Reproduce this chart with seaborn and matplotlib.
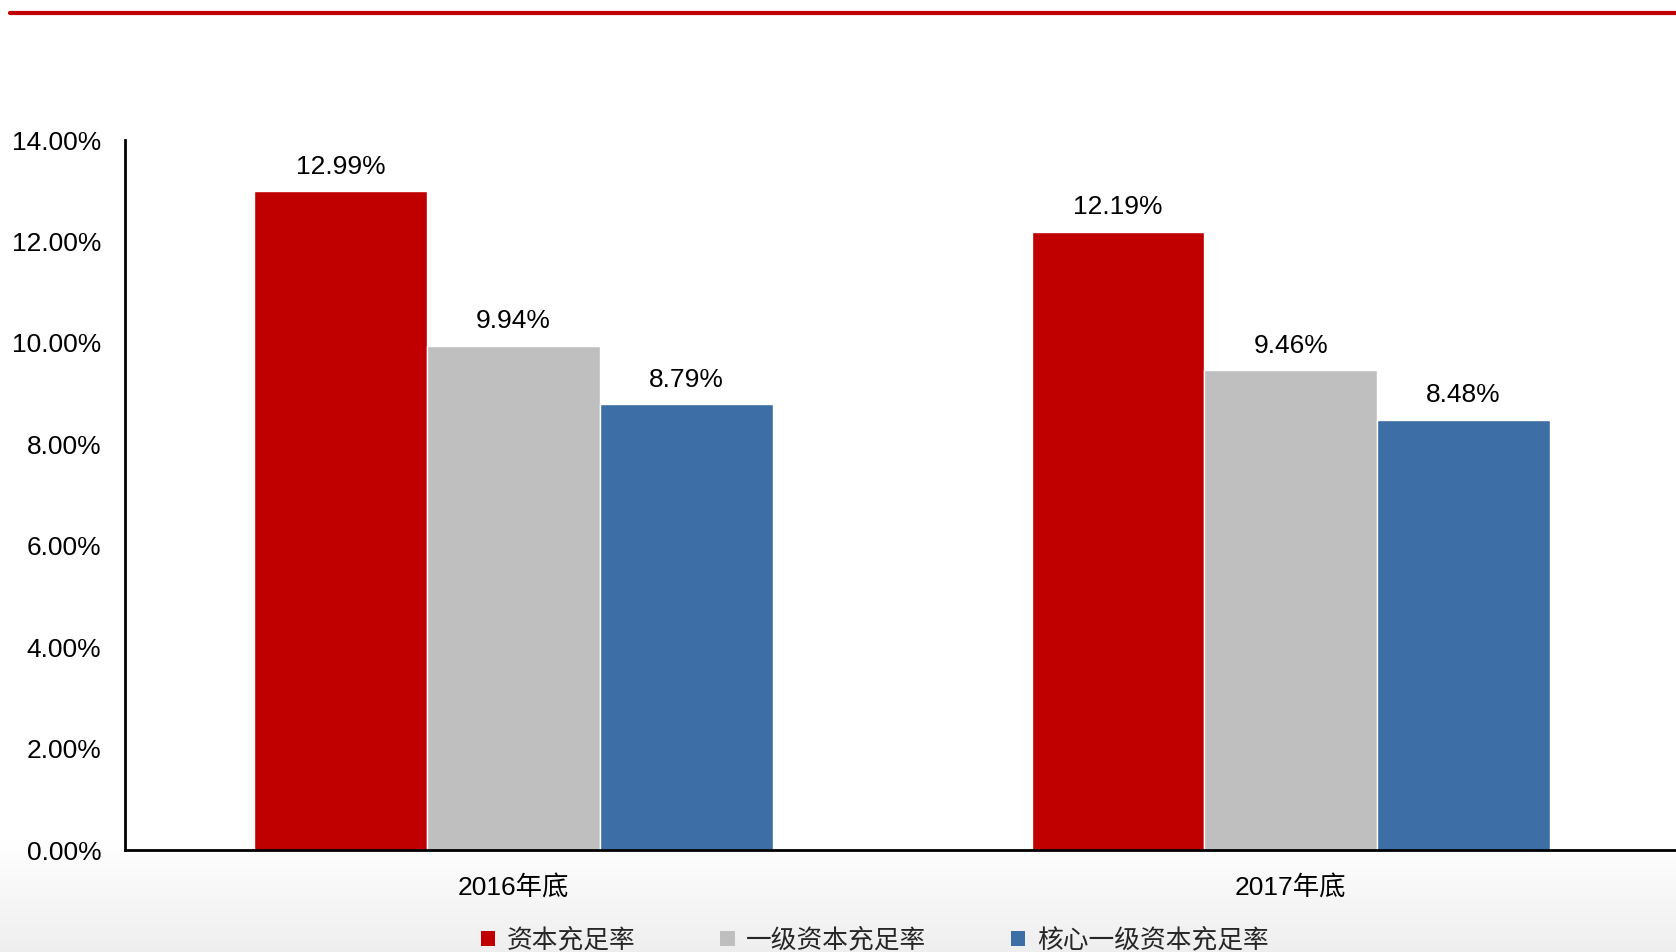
import numpy as np
import pandas as pd
import matplotlib
matplotlib.use("Agg")
import matplotlib.pyplot as plt
import seaborn as sns
from matplotlib.ticker import FuncFormatter, MultipleLocator
from matplotlib.patches import Patch

categories = ["2016年底", "2017年底"]
series_names = ["资本充足率", "一级资本充足率", "核心一级资本充足率"]
capital_ratio = [12.99, 12.19]
tier1_ratio = [9.94, 9.46]
core_tier1_ratio = [8.79, 8.48]
colors = ["#C00000", "#BFBFBF", "#3D6EA5"]

rows = []
for name, vals in zip(series_names, [capital_ratio, tier1_ratio, core_tier1_ratio]):
    for c, v in zip(categories, vals):
        rows.append({"期间": c, "指标": name, "值": v / 100})
df = pd.DataFrame(rows)

sns.set_theme(style="white")
plt.rcParams["font.family"] = ["Liberation Sans", "Noto Sans CJK SC", "DejaVu Sans"]

fig = plt.figure(figsize=(16.76, 9.52), dpi=100)
fig.patch.set_facecolor("white")

# bottom gradient background
grad_ax = fig.add_axes([0, 0, 1, 1], zorder=-10)
h = 952
g = np.ones((h, 1))
start = 840
for i in range(start, h):
    t = (i - start) / (h - start)
    g[i, 0] = 1.0 - 0.065 * t
grad_ax.imshow(np.dstack([g, g, g]), aspect="auto", extent=[0, 1, 0, 1],
               interpolation="bilinear")
grad_ax.set_axis_off()

# top red line
fig.add_artist(plt.Line2D([10 / 1676, 1.0], [1 - 13 / 952, 1 - 13 / 952],
                          color="#C00000", linewidth=3, transform=fig.transFigure))

ax = fig.add_axes([125 / 1676, 1 - 850 / 952, 1 - 125 / 1676 + 0.002, (850 - 140) / 952])
ax.patch.set_alpha(0)
sns.barplot(data=df, x="期间", y="值", hue="指标", hue_order=series_names,
            palette=colors, width=0.667, gap=0, edgecolor="white", linewidth=1,
            saturation=1, ax=ax, legend=False)

ax.set_xlim(-0.5, 1.5)
ax.set_ylim(0, 0.14)
ax.yaxis.set_major_locator(MultipleLocator(0.02))
ax.yaxis.set_major_formatter(FuncFormatter(lambda v, p: f"{v*100:.2f}%"))
ax.set_xlabel("")
ax.set_ylabel("")
for s in ["top", "right"]:
    ax.spines[s].set_visible(False)
for s in ["left", "bottom"]:
    ax.spines[s].set_color("black")
    ax.spines[s].set_linewidth(2)
ax.tick_params(axis="y", labelsize=19, length=0, pad=17, colors="black")
ax.tick_params(axis="x", labelsize=19, length=0, pad=18, colors="black")

for cont in ax.containers:
    ax.bar_label(cont, labels=[f"{v*100:.2f}%" for v in cont.datavalues],
                 padding=9, fontsize=19, color="black")

handles = [Patch(facecolor=c, edgecolor="none") for c in colors]
fig.legend(handles, series_names, loc="center", bbox_to_anchor=(0.522, 1 - 940 / 952),
           ncol=3, frameon=False, fontsize=18.5, handlelength=0.55, handleheight=0.55,
           handletextpad=0.45, columnspacing=3.3)

fig.savefig("out.png", dpi=100)
